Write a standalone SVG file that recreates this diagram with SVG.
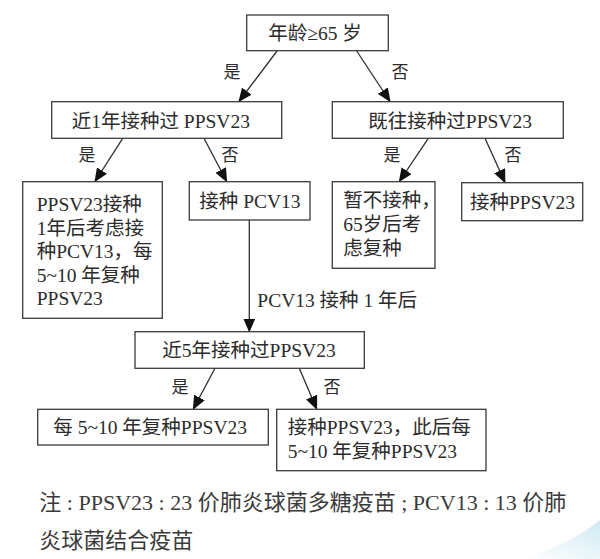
<svg xmlns="http://www.w3.org/2000/svg" width="600" height="559" viewBox="0 0 600 559">
<style>
.box{fill:#fff;stroke:#3a3a3a;stroke-width:1.3}
.t{font-family:"Liberation Serif","Noto Sans CJK SC",serif;font-size:19.5px;fill:#2b2b2b}
.lb{font-family:"Liberation Serif","Noto Sans CJK SC",serif;font-size:17px;fill:#2b2b2b;text-anchor:middle}
.fn{font-family:"Liberation Serif","Noto Sans CJK SC",serif;font-size:22px;fill:#3a3a3a}
.c{stroke:#2e2e2e;stroke-width:1.3;fill:none;marker-end:url(#ah)}
</style>
<defs>
<marker id="ah" markerUnits="userSpaceOnUse" markerWidth="14" markerHeight="12" viewBox="0 0 14 12" refX="13" refY="6" orient="auto">
<path d="M0,0 L14,6 L0,12 Z" fill="#111"/>
</marker>
<linearGradient id="bg" x1="0" y1="1" x2="1" y2="0">
<stop offset="0" stop-color="#d8eef5" stop-opacity="0"/>
<stop offset="1" stop-color="#cfe9f3"/>
</linearGradient>
</defs>
<rect width="600" height="559" fill="#fff"/>
<path d="M520,559 Q570,545 600,520 L600,559 Z" fill="url(#bg)"/>

<g id="connectors">
<line class="c" x1="277" y1="51" x2="239" y2="101.5"/>
<line class="c" x1="356.7" y1="51" x2="390" y2="101.5"/>
<line class="c" x1="122.7" y1="138.3" x2="95" y2="181.5"/>
<line class="c" x1="204" y1="138.3" x2="226.7" y2="181.5"/>
<line class="c" x1="428.3" y1="138.3" x2="399.3" y2="181.5"/>
<line class="c" x1="485" y1="138.3" x2="505" y2="182.5"/>
<line class="c" x1="249.3" y1="220" x2="249.3" y2="331.5"/>
<line class="c" x1="215" y1="368.3" x2="193.3" y2="409"/>
<line class="c" x1="299.3" y1="368.3" x2="316.7" y2="409"/>
<text class="lb" x="232" y="78">是</text>
<text class="lb" x="400" y="78">否</text>
<text class="lb" x="87" y="161">是</text>
<text class="lb" x="230" y="161">否</text>
<text class="lb" x="392" y="161">是</text>
<text class="lb" x="513" y="161">否</text>
<text class="lb" x="180" y="393">是</text>
<text class="lb" x="332" y="393">否</text>
<text class="t" x="257.3" y="307">PCV13 接种 1 年后</text>
</g>

<g id="n_age">
<rect class="box" x="246.7" y="15" width="141.6" height="35.7"/>
<text class="t" x="268.3" y="40">年龄≥65 岁</text>
</g>
<g id="n_recent1">
<rect class="box" x="51.7" y="101.7" width="230" height="36.6"/>
<text class="t" x="71.7" y="127.5">近1年接种过 PPSV23</text>
</g>
<g id="n_past">
<rect class="box" x="332.3" y="101.7" width="231" height="36.6"/>
<text class="t" x="368.3" y="127.5">既往接种过PPSV23</text>
</g>
<g id="n_left">
<rect class="box" x="22.7" y="181.7" width="139.6" height="136.6"/>
<text class="t" x="36.7" y="211">PPSV23接种</text>
<text class="t" x="36.7" y="234.5">1年后考虑接</text>
<text class="t" x="36.7" y="258">种PCV13，每</text>
<text class="t" x="36.7" y="281.5">5~10 年复种</text>
<text class="t" x="36.7" y="305">PPSV23</text>
</g>
<g id="n_pcv13">
<rect class="box" x="189.3" y="181.7" width="120.7" height="38.3"/>
<text class="t" x="199.3" y="208">接种 PCV13</text>
</g>
<g id="n_hold">
<rect class="box" x="332.3" y="181.7" width="102.7" height="86.6"/>
<text class="t" x="343.3" y="207">暂不接种，</text>
<text class="t" x="343.3" y="231">65岁后考</text>
<text class="t" x="343.3" y="255">虑复种</text>
</g>
<g id="n_ppsv">
<rect class="box" x="461.7" y="182.7" width="121" height="38"/>
<text class="t" x="470" y="209">接种PPSV23</text>
</g>
<g id="n_recent5">
<rect class="box" x="135" y="331.7" width="229.3" height="36.6"/>
<text class="t" x="162.3" y="357">近5年接种过PPSV23</text>
</g>
<g id="n_yes5">
<rect class="box" x="37.7" y="409.3" width="230.6" height="35.7"/>
<text class="t" x="53.3" y="434">每 5~10 年复种PPSV23</text>
</g>
<g id="n_no5">
<rect class="box" x="276.7" y="409.3" width="209.3" height="61.4"/>
<text class="t" x="287.7" y="434">接种PPSV23，此后每</text>
<text class="t" x="287.7" y="457.5">5~10 年复种PPSV23</text>
</g>

<g id="note">
<text class="fn" x="39.3" y="510" textLength="527" lengthAdjust="spacing">注 : PPSV23 : 23 价肺炎球菌多糖疫苗 ; PCV13 : 13 价肺</text>
<text class="fn" x="39.3" y="548">炎球菌结合疫苗</text>
</g>
</svg>
